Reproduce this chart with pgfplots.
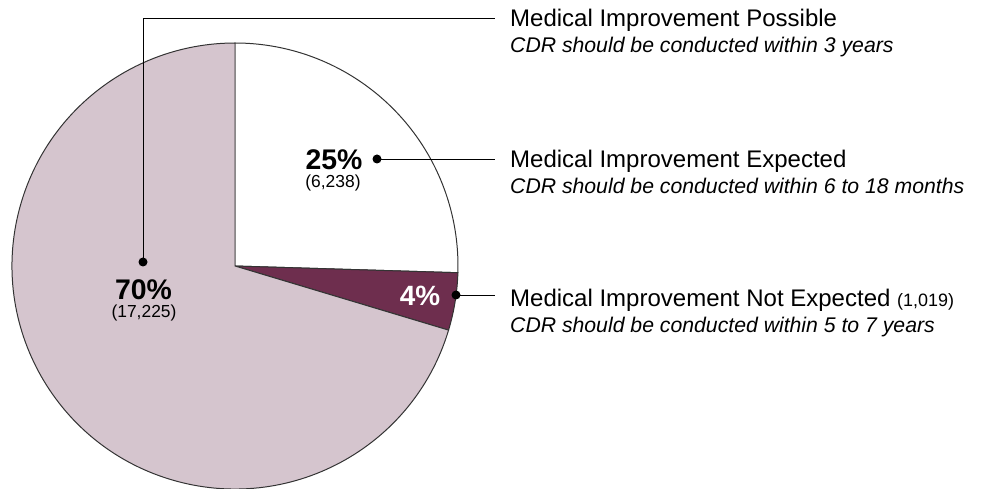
\documentclass[border=0pt]{standalone}
\usepackage{pgfplots}
\usepackage{pgfplotstable}
\pgfplotsset{compat=1.18}
\usepackage{fontspec}
\setmainfont{Liberation Sans}
\definecolor{lightslice}{HTML}{D5C5CE}
\definecolor{darkslice}{HTML}{6E2E4E}

% cases by outcome
\pgfplotstableread{
value
6238
1019
17225
}\cases

\begin{document}
\begin{tikzpicture}
\pgfplotstablegetelem{0}{value}\of\cases \let\va\pgfplotsretval
\pgfplotstablegetelem{1}{value}\of\cases \let\vb\pgfplotsretval
\pgfplotstablegetelem{2}{value}\of\cases \let\vc\pgfplotsretval
% slice boundary angles (clockwise from 12 o'clock)
\edef\aA{\fpeval{90-360*\va/(\va+\vb+\vc)}}
\edef\aB{\fpeval{\aA-360*\vb/(\va+\vb+\vc)}}
\begin{axis}[
  x=1bp, y=1bp, scale only axis,
  xmin=0, xmax=982, ymin=0, ymax=489,
  at={(0,0)}, anchor=origin,
  hide axis, clip=false,
]
% slices
\filldraw[fill=white, draw=black!80, line width=1pt]
  (axis cs:235,223) -- +(90:223bp) arc[start angle=90, end angle=\aA, radius=223bp] -- cycle;
\filldraw[fill=darkslice, draw=black!80, line width=1pt]
  (axis cs:235,223) -- +(\aA:223bp) arc[start angle=\aA, end angle=\aB, radius=223bp] -- cycle;
\filldraw[fill=lightslice, draw=black!80, line width=1pt]
  (axis cs:235,223) -- +(\aB:223bp) arc[start angle=\aB, end angle=-270, radius=223bp] -- cycle;

% leader lines
\draw[line width=0.9pt] (axis cs:143,227) -- (axis cs:143,471) -- (axis cs:495,471);
\fill (axis cs:143,227) circle[radius=4.5bp];
\draw[line width=0.9pt] (axis cs:377,330) -- (axis cs:495,330);
\fill (axis cs:377,330) circle[radius=4.5bp];
\draw[line width=0.9pt] (axis cs:456,194) -- (axis cs:495,194);
\fill (axis cs:456,194) circle[radius=4.5bp];

% slice labels
\tikzset{lbl/.style={anchor=base, inner sep=0pt}}
\node[lbl, font=\fontsize{28.5}{30}\selectfont\bfseries] at (axis cs:334,320) {25\%};
\node[lbl, font=\fontsize{17.5}{20}\selectfont] at (axis cs:333,302) {(6,238)};
\node[lbl, font=\fontsize{28.5}{30}\selectfont\bfseries] at (axis cs:143.5,190) {70\%};
\node[lbl, font=\fontsize{17.5}{20}\selectfont] at (axis cs:144,172) {(17,225)};
\node[lbl, font=\fontsize{28}{30}\selectfont\bfseries, text=white] at (axis cs:420,184) {4\%};

% legend text
\tikzset{lg/.style={anchor=base west, inner sep=0pt, font=\fontsize{24.1}{26}\selectfont},
         lgi/.style={anchor=base west, inner sep=0pt, font=\fontsize{21.3}{24}\selectfont\itshape}}
\node[lg] at (axis cs:510,462) {Medical Improvement Possible};
\node[lgi] at (axis cs:510,436) {CDR should be conducted within 3 years};
\node[lg] at (axis cs:510,322) {Medical Improvement Expected};
\node[lgi] at (axis cs:510,296) {CDR should be conducted within 6 to 18 months};
\node[lg] at (axis cs:510,183) {Medical Improvement Not Expected {\fontsize{18}{20}\selectfont(1,019)}};
\node[lgi] at (axis cs:510,157) {CDR should be conducted within 5 to 7 years};
\end{axis}
\pgfresetboundingbox
\path[use as bounding box] (0,0) rectangle (982bp,489bp);
\end{tikzpicture}
\end{document}
